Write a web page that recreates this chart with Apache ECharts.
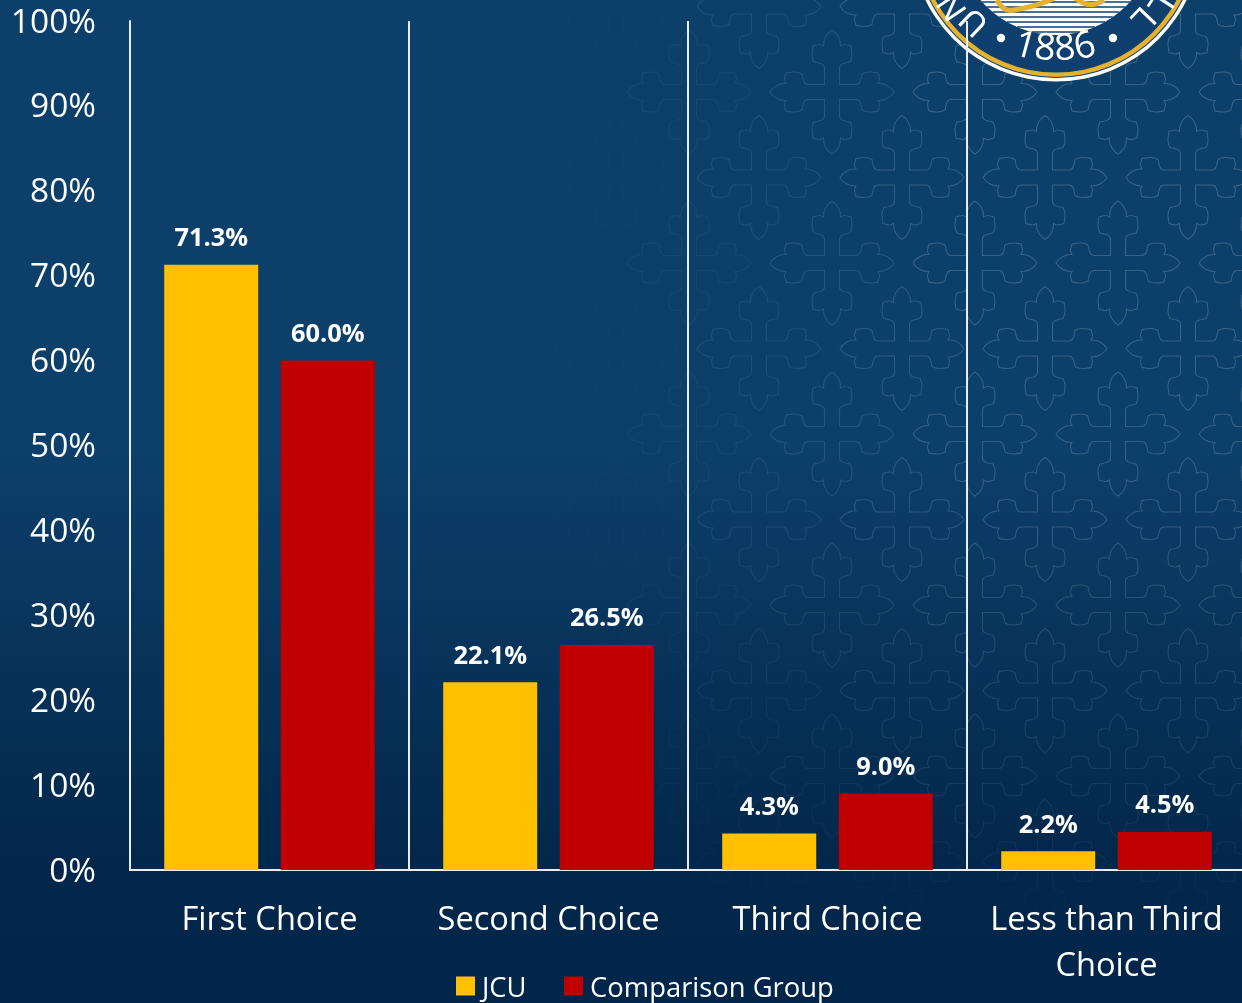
<!DOCTYPE html>
<html>
<head>
<meta charset="utf-8">
<style>html,body{margin:0;padding:0;background:#0c3f6b;overflow:hidden;width:1242px;height:1003px}#c{width:1260px;height:1003px}</style>
<script src="https://cdn.jsdelivr.net/npm/echarts@6/dist/echarts.min.js"></script>
</head>
<body>
<div id="c"></div>
<script>
const categories = ['First Choice', 'Second Choice', 'Third Choice', 'Less than Third Choice'];
const jcu = [71.3, 22.1, 4.3, 2.2];
const comparison = [60.0, 26.5, 9.0, 4.5];

const chart = echarts.init(document.getElementById('c'));
const FONT = '"Open Sans", sans-serif';

let shapeCount = 0;
function pathEl(d, z, style) {
  const name = 'decor' + (shapeCount++);
  echarts.graphic.registerShape(name, echarts.graphic.extendPath(d, {}));
  return { type: name, z, silent: true, style };
}

/* Decorative cross wallpaper */
const armHalf = [[7.5,-7.5],[7.5,-24],[7.5,-28],[12,-29],[18,-30],[21,-35],[20,-40],[19,-46],[12,-48],[8.5,-46],[9,-53],[5,-59],[0,-62]];
function crossPath(cx, cy) {
  let d = '';
  const rot = (p, k) => {
    const a = k * Math.PI / 2, c = Math.cos(a), s = Math.sin(a);
    return (cx + p[0]*c - p[1]*s).toFixed(1) + ' ' + (cy + p[0]*s + p[1]*c).toFixed(1);
  };
  for (let k = 0; k < 4; k++) {
    const m = armHalf.map(p => [-p[0], p[1]]);
    d += (k === 0 ? 'M' : 'L') + rot(m[0], k);
    d += 'L' + rot(m[1], k);
    d += 'C' + rot(m[2], k) + ' ' + rot(m[3], k) + ' ' + rot(m[4], k);
    d += 'C' + rot(m[5], k) + ' ' + rot(m[6], k) + ' ' + rot(m[7], k);
    d += 'C' + rot(m[8], k) + ' ' + rot(m[8], k) + ' ' + rot(m[9], k);
    d += 'C' + rot(m[10], k) + ' ' + rot(m[11], k) + ' ' + rot(m[12], k);
    d += 'C' + rot(armHalf[11], k) + ' ' + rot(armHalf[10], k) + ' ' + rot(armHalf[9], k);
    d += 'C' + rot(armHalf[8], k) + ' ' + rot(armHalf[8], k) + ' ' + rot(armHalf[7], k);
    d += 'C' + rot(armHalf[6], k) + ' ' + rot(armHalf[5], k) + ' ' + rot(armHalf[4], k);
    d += 'C' + rot(armHalf[3], k) + ' ' + rot(armHalf[2], k) + ' ' + rot(armHalf[1], k);
    d += 'L' + rot(armHalf[0], k);
  }
  return d + 'Z';
}
const wallpaperStroke = new echarts.graphic.LinearGradient(0, 0, 0, 1003, [
  { offset: 0, color: 'rgba(255,255,255,0.19)' },
  { offset: 0.5, color: 'rgba(255,255,255,0.16)' },
  { offset: 0.78, color: 'rgba(255,255,255,0.08)' },
  { offset: 0.90, color: 'rgba(255,255,255,0.015)' },
  { offset: 1, color: 'rgba(255,255,255,0)' }
], true);
const graphics = [];
for (let r = 0; r < 11; r++) {
  const cy = 6.5 + 85.5 * r;
  const start = r % 2 === 0 ? 1188 : 1261;
  for (let cx = start; cx > 600; cx -= 143) {
    const op = Math.max(0, Math.min(1, (cx - 590) / 380));
    graphics.push(pathEl(crossPath(cx, cy), -10, { fill: 'none', stroke: wallpaperStroke, lineWidth: 1.1, opacity: op }));
  }
}

/* Seal at the top right */
const SX = 1056, SY = -64;
const sealBlue = '#0e3f6e', gold = '#e6b12e';
const circ = (r, fill) => ({ type: 'circle', z: -5, silent: true, shape: { cx: SX, cy: SY, r }, style: { fill } });
graphics.push(circ(145.5, '#ffffff'), circ(142, sealBlue), circ(141, gold), circ(136.5, sealBlue), circ(99, '#ffffff'));
for (let y = 2; y < 33; y += 5) {
  const half = Math.sqrt(99*99 - (y - SY)*(y - SY));
  graphics.push({ type: 'line', z: -5, silent: true, shape: { x1: SX-half, y1: y, x2: SX+half, y2: y }, style: { stroke: sealBlue, lineWidth: 1.6 } });
}
graphics.push(pathEl('M997 0 Q1004 13 1014 10 Q1040 6 1058 -4 M1075 -2 Q1090 10 1104 0', -5, { fill: 'none', stroke: gold, lineWidth: 5 }));
[[-81,85,'U'],[-103,70,'N'],[86,82,'L'],[103,68,'L']].forEach(([dx,dy,t]) => {
  const len = Math.hypot(dx,dy);
  graphics.push({ type: 'text', z: -4, silent: true, x: SX+dx, y: SY+dy, rotation: Math.atan2(dx/len, -dy/len) * -1,
    style: { text: t, fill: '#fff', font: '400 34px "Liberation Sans"', align: 'center', verticalAlign: 'middle' } });
});
[[-31,'1'],[-11,'8'],[9,'8'],[29,'6']].forEach(([dx,t]) => {
  graphics.push({ type: 'text', z: -4, silent: true, x: SX+dx, y: 50 - Math.abs(dx)*0.1, rotation: dx/118,
    style: { text: t, fill: '#fff', font: '400 37px "Open Sans"', align: 'center', verticalAlign: 'middle' } });
});
[[1001,38],[1113,38]].forEach(([x,y]) => graphics.push({ type: 'circle', z: -4, silent: true, shape: { cx: x, cy: y, r: 4.2 }, style: { fill: '#fff' } }));

const axisLine = { show: true, lineStyle: { color: '#e8edf2', width: 2 } };
const barLabel = {
  show: true, position: 'top', distance: 13.5, color: '#fff',
  fontFamily: FONT, fontWeight: 700, fontSize: 25.4,
  formatter: p => p.value.toFixed(1) + '%'
};

chart.setOption({
  animation: false,
  backgroundColor: new echarts.graphic.LinearGradient(0, 0, 0, 1, [
    { offset: 0, color: '#0c3f6a' },
    { offset: 0.45, color: '#0c3f6a' },
    { offset: 0.86, color: '#03274a' },
    { offset: 1, color: '#02264a' }
  ]),
  graphic: { elements: graphics },
  grid: { left: 130, top: 21, width: 1116, height: 849 },
  legend: {
    left: 456, top: 976, padding: 0, itemWidth: 19, itemHeight: 19, itemGap: 37.5, icon: 'rect',
    formatter: '{t|{name}}',
    textStyle: { color: '#fff', fontFamily: FONT, fontSize: 27.4,
      rich: { t: { color: '#fff', fontFamily: FONT, fontSize: 27.4, padding: [7,0,0,2] } } },
    data: ['JCU', 'Comparison Group']
  },
  xAxis: {
    type: 'category', data: categories,
    axisLine, axisTick: { show: false },
    splitLine: { show: true, lineStyle: { color: '#e8edf2', width: 2 } },
    axisLabel: { color: '#fff', fontFamily: FONT, fontSize: 32.6, margin: 28, lineHeight: 46, interval: 0,
      formatter: v => v.replace('Third Choice', v.length > 15 ? 'Third\nChoice' : 'Third Choice') }
  },
  yAxis: {
    type: 'value', min: 0, max: 100, interval: 10,
    axisLine, axisTick: { show: false }, splitLine: { show: false },
    axisLabel: { color: '#fff', fontFamily: FONT, fontSize: 33.5, margin: 34, verticalAlign: 'top', lineHeight: 4, formatter: '{value}%' }
  },
  series: [
    { name: 'JCU', type: 'bar', data: jcu, barWidth: 94, barGap: '24%', itemStyle: { color: '#FFC000' }, label: barLabel },
    { name: 'Comparison Group', type: 'bar', data: comparison, barWidth: 94, itemStyle: { color: '#C00000' }, label: barLabel }
  ]
});
</script>
</body>
</html>
